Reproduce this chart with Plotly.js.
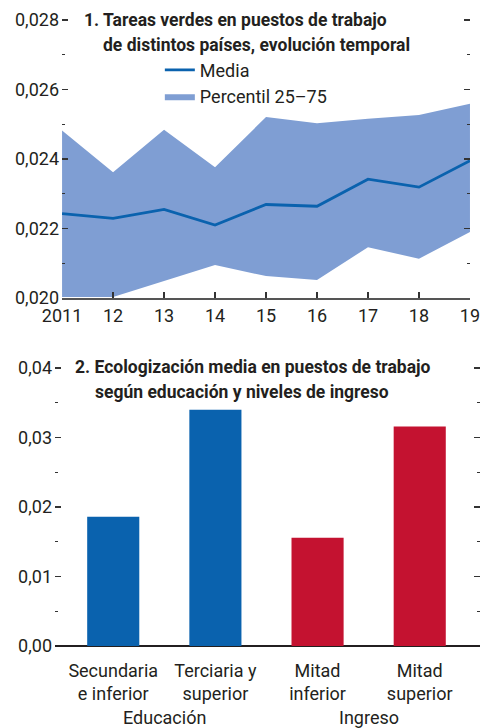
<!DOCTYPE html>
<html><head><meta charset="utf-8">
<script src="https://cdn.plot.ly/plotly-3.0.1.min.js"></script>
<style>html,body{margin:0;padding:0;background:#fff}#c{width:480px;height:728px}</style>
</head><body><div id="c"></div>
<script>
// Panel 1
const years = [2011, 2012, 2013, 2014, 2015, 2016, 2017, 2018, 2019];
const yearLabels = ["2011", "12", "13", "14", "15", "16", "17", "18", "19"];
const meanVals = [0.02243, 0.02229, 0.02255, 0.02210, 0.02269, 0.02264, 0.02342, 0.02319, 0.02395];
const p25Vals = [0.02003, 0.02003, 0.02049, 0.02095, 0.02063, 0.02052, 0.02146, 0.02113, 0.02190];
const p75Vals = [0.02482, 0.02362, 0.02484, 0.02376, 0.02521, 0.02503, 0.02516, 0.02527, 0.02559];
const yTicks1 = [0.020, 0.022, 0.024, 0.026, 0.028];
const yMinor1 = [0.021, 0.023, 0.025, 0.027];
// Panel 2
const cats = ["Secundaria<br>e inferior", "Terciaria y<br>superior", "Mitad<br>inferior", "Mitad<br>superior"];
const barVals = [0.0186, 0.0340, 0.0156, 0.0316];
const groups = ["Educación", "Educación", "Ingreso", "Ingreso"];
const yTicks2 = [0, 0.01, 0.02, 0.03, 0.04];
const yMinor2 = [0.005, 0.015, 0.025, 0.035];

const FONT = "Roboto, 'Liberation Sans', sans-serif";
const TXT = "#231f20";
const BLUE = "#0a62ae", RED = "#c41230", FILL = "#7f9ed3";

const traces = [
  {x: years, y: p25Vals, type: "scatter", mode: "lines", line: {width: 0, color: FILL},
   showlegend: false, hoverinfo: "skip", xaxis: "x", yaxis: "y"},
  {x: years, y: p75Vals, type: "scatter", mode: "lines", line: {width: 0, color: FILL},
   fill: "tonexty", fillcolor: FILL, name: "Percentil 25–75", legendrank: 2, xaxis: "x", yaxis: "y"},
  {x: years, y: meanVals, type: "scatter", mode: "lines", line: {width: 2.8, color: BLUE},
   name: "Media", legendrank: 1, xaxis: "x", yaxis: "y"},
  {x: [0, 1, 2, 3], y: barVals, type: "bar", width: 0.51,
   marker: {color: groups.map(g => g === "Educación" ? BLUE : RED)},
   showlegend: false, xaxis: "x2", yaxis: "y2"}
];

const tf = {family: FONT, size: 18, color: TXT};
const bf = {family: FONT, size: 17.5, color: TXT};
const layout = {
  width: 480, height: 728,
  margin: {l: 0, r: 0, t: 0, b: 0},
  paper_bgcolor: "#fff", plot_bgcolor: "rgba(0,0,0,0)",
  separators: ",.",
  font: tf,
  showlegend: true,
  legend: {x: 0.333, y: 0.929, xanchor: "left", yanchor: "top", bgcolor: "rgba(0,0,0,0)",
           traceorder: "normal", font: tf, tracegroupgap: 0, itemwidth: 30},
  xaxis: {domain: [0.1292, 0.9792], range: [2010.999, 2019.001], tickvals: years, ticktext: yearLabels,
          showgrid: false, zeroline: false, showline: true, linecolor: "#555", linewidth: 2,
          ticks: "inside", ticklen: 6, tickcolor: "#333", tickwidth: 1.2, tickfont: tf,
          ticklabeloverflow: "allow", anchor: "y"},
  yaxis: {domain: [0.5907, 0.97527], range: [0.020, 0.02806], tickvals: yTicks1,
          tickformat: ".3f",
          showgrid: false, zeroline: false, showline: false, mirror: "ticks",
          ticks: "inside", ticklen: 6, tickcolor: "#333", tickwidth: 1.2, tickfont: tf,
          ticklabelstandoff: 2,
          minor: {tickvals: yMinor1, ticks: "inside", ticklen: 3, tickcolor: "#333", tickwidth: 1, showgrid: false},
          anchor: "x"},
  xaxis2: {domain: [0.1146, 1.0], range: [-0.57, 3.59], tickvals: [0, 1, 2, 3], ticktext: cats,
           showgrid: false, zeroline: false, showline: false, ticks: "", tickfont: tf,
           ticklabelstandoff: 12, anchor: "y2"},
  yaxis2: {domain: [0.1126, 0.49725], range: [0, 0.0403], tickvals: yTicks2, tickformat: ".2f",
           showgrid: false, zeroline: true, zerolinecolor: "#231f20", zerolinewidth: 1.5,
           showline: false, mirror: "ticks",
           ticks: "inside", ticklen: 6, tickcolor: "#333", tickwidth: 1.2, tickfont: tf,
           ticklabelstandoff: 2,
           minor: {tickvals: yMinor2, ticks: "inside", ticklen: 3, tickcolor: "#333", tickwidth: 1, showgrid: false},
           anchor: "x2"},
  annotations: [
    {text: "<b>1. Tareas verdes en puestos de trabajo</b>", xref: "paper", yref: "paper",
     x: 0.1708, y: 0.9725, xanchor: "left", yanchor: "middle", showarrow: false, font: bf},
    {text: "<b>de distintos países, evolución temporal</b>", xref: "paper", yref: "paper",
     x: 0.2104, y: 0.9382, xanchor: "left", yanchor: "middle", showarrow: false, font: bf},
    {text: "<b>2. Ecologización media en puestos de trabajo</b>", xref: "paper", yref: "paper",
     x: 0.1521, y: 0.4959, xanchor: "left", yanchor: "middle", showarrow: false, font: bf},
    {text: "<b>según educación y niveles de ingreso</b>", xref: "paper", yref: "paper",
     x: 0.1931, y: 0.4615, xanchor: "left", yanchor: "middle", showarrow: false, font: bf},
    {text: "Educación", xref: "x2", yref: "paper", x: 0.5, y: 1 - 717 / 728,
     xanchor: "center", yanchor: "middle", showarrow: false, font: tf},
    {text: "Ingreso", xref: "x2", yref: "paper", x: 2.5, y: 1 - 717 / 728,
     xanchor: "center", yanchor: "middle", showarrow: false, font: tf}
  ]
};

Plotly.newPlot("c", traces, layout, {displayModeBar: false, staticPlot: true});
</script>
</body></html>
